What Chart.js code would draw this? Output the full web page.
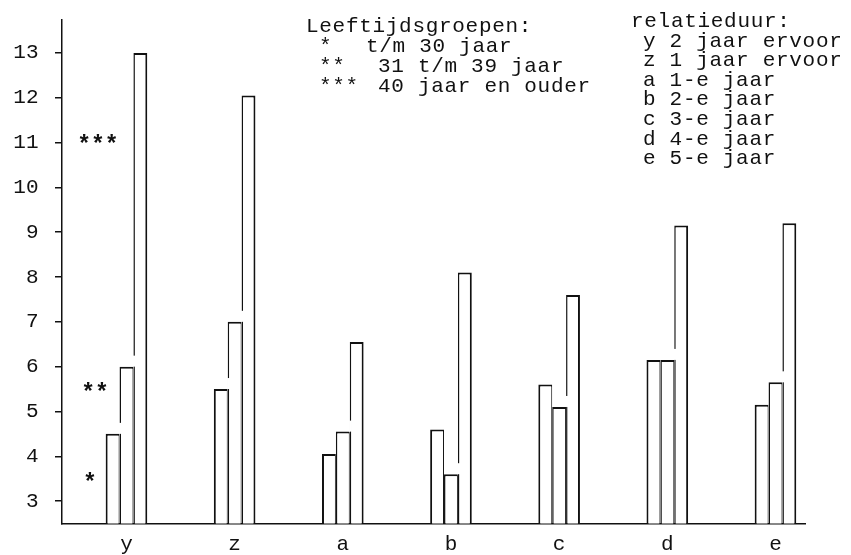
<!DOCTYPE html>
<html>
<head>
<meta charset="utf-8">
<script src="https://cdn.jsdelivr.net/npm/chart.js@4.4.1/dist/chart.umd.min.js"></script>
<style>
  html, body { margin: 0; padding: 0; background: #ffffff; overflow: hidden; }
  canvas { display: block; }
</style>
</head>
<body>
<canvas id="chart" width="851" height="555"></canvas>
<script>
// ---- data ----
const categories = ['y', 'z', 'a', 'b', 'c', 'd', 'e'];
const ageUpTo30 = [4.5, 5.5, 4.05, 4.6, 5.6, 6.15, 5.15];
const age31to39 = [6.0, 7.0, 4.55, 3.6, 5.1, 6.15, 5.65];
const age40plus = [13.0, 12.05, 6.55, 8.1, 7.6, 9.15, 9.2];
const yTicks = [3, 4, 5, 6, 7, 8, 9, 10, 11, 12, 13];

const ageTitle = 'Leeftijdsgroepen:';
const ageMarkers = ['*', '**', '***'];
const ageLabels = ['t/m 30 jaar', '31 t/m 39 jaar', '40 jaar en ouder'];
const durationTitle = 'relatieduur:';
const durationLabels = ['2 jaar ervoor', '1 jaar ervoor', '1-e jaar', '2-e jaar', '3-e jaar', '4-e jaar', '5-e jaar'];

// ---- styling ----
const INK = '#111111';
const FONT = "'Liberation Mono', 'DejaVu Sans Mono', monospace";

function toPoints(values) {
  return values.map((v, i) => ({ x: i, y: v }));
}

const annotate = {
  id: 'annotate',
  afterDatasetsDraw(chart) {
    const ctx = chart.ctx;
    const metas = [0, 1, 2].map(i => chart.getDatasetMeta(i));
    // small break in the left edge of a much taller bar just above its neighbour
    ctx.save();
    ctx.fillStyle = '#ffffff';
    for (let j = 0; j < categories.length; j++) {
      for (let k = 1; k < 3; k++) {
        const prev = metas[k - 1].data[j];
        const cur = metas[k].data[j];
        if (cur.y < prev.y - 30) {
          const left = cur.x - cur.width / 2;
          ctx.fillRect(left - 0.6, prev.y - 11, 2.8, 11);
        }
      }
    }
    ctx.restore();
  },
  afterDraw(chart) {
    const ctx = chart.ctx;
    const xs = chart.scales.x;
    const ys = chart.scales.y;
    ctx.save();
    ctx.fillStyle = INK;
    ctx.font = '21px ' + FONT;
    try { ctx.letterSpacing = '0.7px'; } catch (e) {}
    ctx.textBaseline = 'alphabetic';
    ctx.textAlign = 'left';

    // legend: age groups
    ctx.fillText(ageTitle, 306, 31.5);
    const descX = [366, 378, 378];
    ageMarkers.forEach((m, i) => {
      const by = 51.5 + 20 * i;
      ctx.fillText(m, 319, by);
      ctx.fillText(ageLabels[i], descX[i], by);
    });

    // legend: relation duration
    ctx.fillText(durationTitle, 631, 27);
    categories.forEach((c, i) => {
      ctx.fillText(c + ' ' + durationLabels[i], 643, 46.5 + 19.6 * i);
    });

    // markers beside the first group of bars
    try { ctx.letterSpacing = '0px'; } catch (e) {}
    ctx.font = 'bold 23px ' + FONT;
    const cx0 = xs.getPixelForValue(0);
    const markerDX = [-36.5, -31.5, -28.5];
    const markerVal = [3.55, 5.55, 11.1];
    ctx.textAlign = 'center';
    ageMarkers.forEach((m, i) => {
      const mt = ctx.measureText(m);
      const off = (mt.actualBoundingBoxAscent - mt.actualBoundingBoxDescent) / 2;
      ctx.fillText(m, cx0 + markerDX[i], ys.getPixelForValue(markerVal[i]) + off);
    });
    ctx.restore();
  }
};

const common = {
  backgroundColor: '#ffffff',
  borderColor: INK,
  borderSkipped: 'start',
  inflateAmount: 0,
  barPercentage: 1.0,
  categoryPercentage: 0.385
};

new Chart(document.getElementById('chart'), {
  type: 'bar',
  data: {
    datasets: [
      Object.assign({ label: ageMarkers[0] + ' ' + ageLabels[0], data: toPoints(ageUpTo30),
        borderWidth: { top: 2, left: 2, right: 1, bottom: 0 } }, common),
      Object.assign({ label: ageMarkers[1] + ' ' + ageLabels[1], data: toPoints(age31to39),
        borderWidth: { top: 2, left: 1.5, right: 1, bottom: 0 } }, common),
      Object.assign({ label: ageMarkers[2] + ' ' + ageLabels[2], data: toPoints(age40plus),
        borderWidth: { top: 2, left: 1.5, right: 2, bottom: 0 } }, common)
    ]
  },
  options: {
    responsive: false,
    devicePixelRatio: 1,
    animation: false,
    layout: { padding: { left: 13.3, right: 46, top: 19.3, bottom: 0 } },
    plugins: {
      legend: { display: false },
      tooltip: { enabled: false },
      title: { display: false }
    },
    scales: {
      x: {
        type: 'linear',
        offset: false,
        bounds: 'data',
        min: -0.596,
        max: 6.273,
        afterBuildTicks: s => { s.ticks = categories.map((c, i) => ({ value: i })); },
        afterFit: s => { s.height = 31.5; s.paddingLeft = 0; s.paddingRight = 0; },
        grid: { display: false, drawTicks: false, drawOnChartArea: false },
        border: { display: true, color: INK, width: 1.5 },
        ticks: {
          color: INK,
          font: { family: FONT, size: 21, lineHeight: 1 },
          padding: 10.5,
          autoSkip: false,
          maxRotation: 0,
          callback: v => (categories[v] !== undefined ? categories[v] : '')
        }
      },
      y: {
        type: 'linear',
        bounds: 'data',
        beginAtZero: false,
        min: 2.5,
        max: 13.75,
        afterBuildTicks: s => { s.ticks = yTicks.map(v => ({ value: v })); },
        afterFit: s => { s.width = 48.7; s.paddingTop = 0; s.paddingBottom = 0; },
        grid: { drawOnChartArea: false, drawTicks: true, tickLength: 7, color: INK, lineWidth: 1.5 },
        border: { display: true, color: INK, width: 1.5 },
        ticks: {
          color: INK,
          font: { family: FONT, size: 21 },
          padding: 16.5,
          callback: v => String(v)
        }
      }
    }
  },
  plugins: [annotate]
});
</script>
</body>
</html>
